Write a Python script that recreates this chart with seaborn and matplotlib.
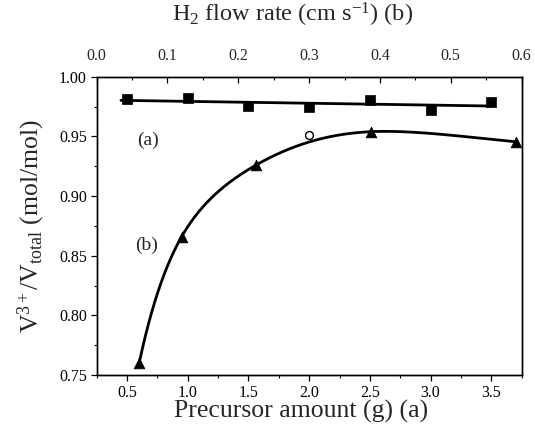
import numpy as np
import pandas as pd
import matplotlib
matplotlib.use("Agg")
import matplotlib.pyplot as plt
import seaborn as sns
from matplotlib.ticker import MultipleLocator

sns.set_theme(style="ticks")
plt.rcParams['font.family'] = ['Liberation Serif', 'DejaVu Serif']
plt.rcParams['mathtext.fontset'] = 'custom'
plt.rcParams['mathtext.rm'] = 'Liberation Serif'
plt.rcParams['mathtext.it'] = 'Liberation Serif:italic'
plt.rcParams['mathtext.default'] = 'regular'

# Series (a): precursor amount (g) on bottom axis
precursor_g = [0.5, 1.0, 1.5, 2.0, 2.5, 3.0, 3.5]
ratio_a = [0.981, 0.9824, 0.9755, 0.9744, 0.9805, 0.972, 0.979]
# open circle point
circle_x = [2.0]
circle_y = [0.951]

# Series (b): H2 flow rate (cm s-1) on top axis
flow_rate = [0.06, 0.12, 0.225, 0.388, 0.592]
ratio_b = [0.76, 0.866, 0.926, 0.954, 0.9455]

bottom_ticks = [0.5, 1.0, 1.5, 2.0, 2.5, 3.0, 3.5]
top_ticks = [0.0, 0.1, 0.2, 0.3, 0.4, 0.5, 0.6]
y_ticks = [0.75, 0.80, 0.85, 0.90, 0.95, 1.00]


def natural_spline(x, y, xs):
    x = np.asarray(x, float); y = np.asarray(y, float)
    n = len(x)
    h = np.diff(x)
    A = np.zeros((n, n)); b = np.zeros(n)
    A[0, 0] = 1; A[-1, -1] = 1
    for i in range(1, n - 1):
        A[i, i - 1] = h[i - 1]
        A[i, i] = 2 * (h[i - 1] + h[i])
        A[i, i + 1] = h[i]
        b[i] = 3 * ((y[i + 1] - y[i]) / h[i] - (y[i] - y[i - 1]) / h[i - 1])
    c = np.linalg.solve(A, b)
    out = np.empty_like(xs)
    for k, xv in enumerate(xs):
        i = min(max(np.searchsorted(x, xv) - 1, 0), n - 2)
        dx = xv - x[i]
        bi = (y[i + 1] - y[i]) / h[i] - h[i] * (2 * c[i] + c[i + 1]) / 3
        di = (c[i + 1] - c[i]) / (3 * h[i])
        out[k] = y[i] + bi * dx + c[i] * dx ** 2 + di * dx ** 3
    return out


fig = plt.figure(figsize=(5.35, 4.38), dpi=100)
ax = fig.add_axes([0.1807, 0.1438, 0.7943, 0.6809])

df_a = pd.DataFrame({"x": precursor_g, "y": ratio_a})
coef = np.polyfit(df_a["x"], df_a["y"], 1)
fx = np.linspace(0.45, 3.5, 50)
sns.lineplot(x=fx, y=np.polyval(coef, fx), ax=ax, color="black", lw=2.0)
sns.scatterplot(data=df_a, x="x", y="y", ax=ax, marker="s", s=50,
                color="black", edgecolor="black", linewidth=0.5, zorder=5)
sns.scatterplot(x=circle_x, y=circle_y, ax=ax, marker="o", s=32,
                facecolor="white", edgecolor="black", linewidth=1.0, zorder=5)

ax.set_xlim(0.25, 3.75)
ax.set_ylim(0.75, 1.00)
ax.set_xticks(bottom_ticks)
ax.set_xticklabels([f"{t:.1f}" for t in bottom_ticks])
ax.xaxis.set_minor_locator(MultipleLocator(0.25))
ax.set_yticks(y_ticks)
ax.set_yticklabels([f"{t:.2f}" for t in y_ticks])
ax.yaxis.set_minor_locator(MultipleLocator(0.025))
ax.tick_params(axis="both", which="major", direction="out", length=4,
               width=0.9, labelsize=11.5, pad=3, color="black", labelcolor="black")
ax.tick_params(axis="both", which="minor", direction="out", length=2.5,
               width=0.8, color="black")
ax.set_xlabel("Precursor amount (g) (a)", fontsize=18.5)
ax.xaxis.set_label_coords(0.48, -0.082)
ax.set_ylabel(r"V$^{3+}$/V$_{total}$ (mol/mol)", fontsize=18.5)
ax.yaxis.set_label_coords(-0.117, 0.5)

ax2 = ax.twiny()
df_b = pd.DataFrame({"x": flow_rate, "y": ratio_b})
sx = np.exp(np.linspace(np.log(flow_rate[0]), np.log(flow_rate[-1]), 300))
sy = natural_spline(np.log(flow_rate), ratio_b, np.log(sx))
sns.lineplot(x=sx, y=sy, ax=ax2, color="black", lw=2.0)
sns.scatterplot(data=df_b, x="x", y="y", ax=ax2, marker="^", s=60,
                color="black", edgecolor="black", linewidth=0.5, zorder=5)
ax2.set_xlim(0.0, 0.6)
ax2.set_xticks(top_ticks)
ax2.set_xticklabels([f"{t:.1f}" for t in top_ticks])
ax2.xaxis.set_minor_locator(MultipleLocator(0.05))
ax2.tick_params(axis="x", which="major", direction="in", length=4,
                width=0.9, labelsize=11.5, pad=9, color="black")
ax2.tick_params(axis="x", which="minor", direction="in", length=2.5,
                width=0.8, color="black")
ax2.set_xlabel(r"H$_2$ flow rate (cm s$^{-1}$) (b)", fontsize=17.5)
ax2.xaxis.set_label_coords(0.46, 1.185)

for a in (ax, ax2):
    for s in a.spines.values():
        s.set_color("black")
        s.set_linewidth(1.0)
        s.set_visible(True)

ax.text(0.67, 0.947, "(a)", fontsize=14, ha="center", va="center")
ax.text(0.66, 0.859, "(b)", fontsize=14, ha="center", va="center")

ax.set_zorder(ax2.get_zorder() + 1)
ax.patch.set_visible(False)

fig.savefig("out.png", dpi=100)
